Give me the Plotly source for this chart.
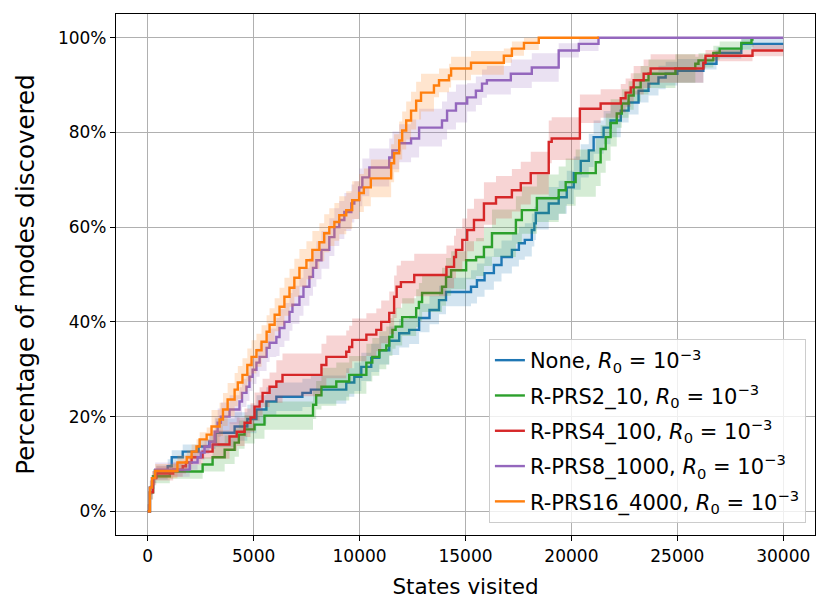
import numpy as np
import plotly.graph_objects as go

# ---------------- data ----------------
names = ["None", "R-PRS2_10", "R-PRS4_100", "R-PRS8_1000", "R-PRS16_4000"]
colors = ["#1f77b4", "#2ca02c", "#d62728", "#9467bd", "#ff7f0e"]

none_x = [0, 100, 250, 400, 940, 1130, 1650, 2400, 2900, 3200, 4100, 4700, 5130, 5600, 6070,
          7300, 7700, 9370, 9750, 10080, 10550, 10930, 11400, 11870, 12340, 12810, 13300, 13750,
          14080, 15260, 15540, 15900, 16340, 16700, 17190, 17520, 17800, 18130, 18250, 18320,
          18930, 19400, 19780, 20110, 20440, 20820, 21050, 21520, 21850, 22330, 22700, 23170,
          23640, 24110, 24450, 25000, 26230, 26850, 28020, 30000]
none_y = [0, 5, 7.4, 8.2, 9.5, 11.4, 12.6, 13.7, 14.7, 16.6, 17.9, 19.5, 21.5, 23.2, 24.2,
          25.0, 25.7, 27.2, 28.4, 30.5, 32.4, 34.0, 36.0, 37.6, 38.3, 40.8, 42.5, 44.6,
          46.3, 47.4, 48.8, 50.3, 52.0, 53.7, 55.2, 56.6, 57.3, 59.4, 60.8, 63.0,
          65.0, 66.3, 68.4, 71.4, 74.0, 76.2, 79.0, 81.0, 82.5, 84.6, 86.3, 88.8,
          90.3, 91.6, 92.4, 93.0, 94.5, 96.8, 98.7, 98.7]

prs2_x = [0, 100, 250, 1040, 2590, 3060, 3630, 4100, 4300, 4570, 5040, 5510, 7800, 7950, 8200,
          8900, 9510, 10320, 10600, 10930, 11260, 11400, 11550, 11700, 12010, 12670, 12800,
          12950, 13890, 14080, 14320, 15030, 15500, 15870, 16250, 17380, 17660, 18370, 19400,
          19730, 20200, 21150, 21380, 21620, 21850, 22140, 22380, 22700, 22940, 23270, 23640,
          24910, 25850, 26000, 26700, 27000, 28020, 28500, 28600]
prs2_y = [0, 4, 7.4, 8.4, 9.9, 11.4, 13.0, 14.5, 16.2, 17.3, 18.3, 20.2, 22.5, 24.5, 26.3,
          27.4, 28.8, 31.4, 32.6, 34.0, 35.0, 36.8, 38.3, 39.0, 41.0, 42.9, 44.2,
          46.1, 47.4, 49.5, 50.9, 53.0, 53.7, 55.8, 58.7, 61.5, 63.6, 66.1, 67.8,
          69.5, 71.4, 73.7, 76.5, 79.0, 82.0, 84.0, 86.1, 87.8, 89.5, 91.0, 92.4,
          93.5, 94.5, 95.2, 96.8, 97.7, 98.9, 99.6, 99.6]

prs4_x = [0, 100, 250, 400, 1200, 1650, 1800, 2070, 2590, 3060, 3860, 4200, 4570, 4850, 5040,
          5280, 5420, 5750, 6070, 6360, 8200, 8430, 9370, 9510, 9650, 10320, 10790, 11020,
          11400, 11630, 11750, 11950, 12580, 14100, 14460, 14550, 14850, 15080, 15400, 15870,
          16440, 17190, 17610, 18080, 18930, 19070, 20400, 21380, 22330, 22560, 22800, 22940,
          23410, 23740, 26230, 26330, 28550, 30000]
prs4_y = [0, 4, 7, 8, 8.8, 9.5, 10.3, 11.4, 12.6, 14.1, 15.8, 16.8, 18.7, 19.8, 22.1,
          23.2, 25.0, 26.3, 27.4, 28.8, 30.9, 32.6, 33.7, 34.7, 36.2, 37.3, 38.3, 40.0,
          41.9, 45.3, 47.4, 48.4, 49.9, 51.6, 53.7, 55.2, 57.3, 59.4, 61.5, 65.0,
          66.3, 67.8, 69.3, 71.4, 78.0, 78.7, 85.0, 86.1, 87.2, 88.4, 89.5, 91.0,
          92.4, 93.5, 94.7, 96.2, 97.3, 97.3]

prs8_x = [0, 100, 200, 350, 1980, 2350, 2500, 2680, 2920, 3160, 3300, 3450, 3860, 4330, 4450,
          4660, 4800, 4950, 5130, 5280, 5610, 5750, 6070, 6220, 6450, 6690, 6830, 7160, 7350,
          7630, 7800, 7960, 8200, 8570, 8810, 9040, 9280, 9610, 9750, 9980, 10130, 10460,
          11400, 11550, 11870, 12430, 12810, 13890, 14130, 14550, 15080, 15490, 15780, 16010,
          17140, 18130, 19400, 20350, 21280, 30000]
prs8_y = [0, 5, 7, 8.8, 10.3, 11.4, 12.4, 13.7, 14.7, 16.8, 18.7, 20.0, 21.5, 23.2, 25.0,
          26.3, 28.4, 29.9, 31.4, 32.6, 34.5, 35.6, 36.8, 38.7, 40.0, 42.1, 43.6, 45.3, 47.4,
          49.5, 51.4, 53.0, 55.2, 57.9, 60.0, 61.5, 63.2, 65.0, 65.7, 68.4, 70.5, 72.6,
          74.7, 76.2, 77.7, 78.7, 81.0, 82.5, 84.6, 86.1, 87.4, 88.8, 90.3, 91.0,
          92.4, 93.7, 97.3, 98.7, 100, 100]

prs16_x = [0, 100, 200, 350, 1400, 1840, 2070, 2300, 2450, 2780, 3010, 3390, 3550, 3770, 4100,
           4250, 4470, 4700, 4900, 5130, 5370, 5610, 5750, 5990, 6220, 6450, 6690, 6920, 7160,
           7490, 7770, 8100, 8330, 8570, 8810, 9040, 9370, 9650, 9980, 10200, 10530, 11490,
           11630, 11870, 12010, 12200, 12430, 12670, 12900, 13510, 13750, 14220, 14320, 15260,
           16810, 17190, 17760, 18460, 21300]
prs16_y = [0, 5, 7, 8.5, 10.3, 11.4, 12.6, 13.7, 15.2, 16.2, 17.9, 19.4, 21.5, 23.6, 25.7,
           27.2, 28.8, 30.9, 32.6, 34.0, 35.8, 37.9, 39.4, 41.5, 43.2, 45.3, 47.2, 49.3, 51.4,
           53.0, 55.2, 56.8, 58.7, 60.0, 61.1, 62.5, 63.6, 65.7, 67.2, 68.4, 70.3, 73.5,
           75.6, 78.3, 80.4, 82.5, 84.6, 86.7, 88.4, 89.9, 91.0, 92.0, 93.5, 94.7,
           96.2, 97.7, 98.9, 100, 100]

# spread of the shaded band (half-width, %) : value holds from the given x onward
none_sx, none_sv = [0, 3000, 15000, 22000, 26000], [1.5, 3.0, 3.5, 2.5, 1.2]
prs2_sx, prs2_sv = [0, 3000, 8000, 16000, 22000, 25000], [1.5, 3.0, 4.0, 5.0, 3.0, 1.5]
prs4_sx, prs4_sv = [0, 3000, 6000, 20000, 24000], [1.5, 3.0, 4.5, 3.0, 1.2]
prs8_sx, prs8_sv = [0, 3000, 6000, 15000, 19000, 21280], [1.5, 3.0, 4.0, 3.0, 1.5, 0.0]
prs16_sx, prs16_sv = [0, 3000, 6000, 13000, 16000, 18460], [1.5, 3.5, 4.0, 2.5, 1.5, 0.0]

series = [
    (none_x, none_y, none_sx, none_sv),
    (prs2_x, prs2_y, prs2_sx, prs2_sv),
    (prs4_x, prs4_y, prs4_sx, prs4_sv),
    (prs8_x, prs8_y, prs8_sx, prs8_sv),
    (prs16_x, prs16_y, prs16_sx, prs16_sv),
]

def rgba(hexc, a):
    h = hexc.lstrip("#")
    return "rgba(%d,%d,%d,%.2f)" % (int(h[0:2], 16), int(h[2:4], 16), int(h[4:6], 16), a)

fig = go.Figure()
for i, (name, col, (xs, ys, sx, sv)) in enumerate(zip(names, colors, series)):
    xs = np.array(xs, float)
    ys = np.array(ys, float)
    idx = np.searchsorted(np.array(sx), xs, side="right") - 1
    sd = np.array(sv)[idx]
    lo = np.clip(ys - sd, 0, 100)
    hi = np.clip(ys + sd, 0, 100)
    g = "g%d" % i
    fig.add_trace(go.Scatter(x=xs, y=lo, mode="lines", line=dict(width=0, shape="hv"),
                             showlegend=False, hoverinfo="skip", legendgroup=g))
    fig.add_trace(go.Scatter(x=xs, y=hi, mode="lines", line=dict(width=0, shape="hv"),
                             fill="tonexty", fillcolor=rgba(col, 0.2),
                             showlegend=False, hoverinfo="skip", legendgroup=g))
    fig.add_trace(go.Scatter(x=xs, y=ys, mode="lines", line=dict(color=col, width=2.4, shape="hv"),
                             legendgroup=g,
                             name=name + ", <i>R</i><sub>0</sub> = 10<sup>−3</sup>"))

font = "DejaVu Sans"
axis_common = dict(showgrid=True, gridcolor="#b0b0b0", gridwidth=1,
                   showline=True, linecolor="black", linewidth=1.2, mirror=True,
                   ticks="outside", ticklen=5, tickcolor="black", tickwidth=1,
                   zeroline=False, automargin=False,
                   tickfont=dict(family=font, size=17, color="black"))

# page body has an 8px margin, so the figure is sized to fit the 830x615 window
fig.update_layout(
    width=822, height=607,
    margin=dict(l=108, r=15, t=6, b=80),
    paper_bgcolor="white", plot_bgcolor="white",
    font=dict(family=font, color="black"),
    xaxis=dict(range=[-1500, 31500], tickvals=[0, 5000, 10000, 15000, 20000, 25000, 30000],
               ticktext=["0", "5000", "10000", "15000", "20000", "25000", "30000"],
               title=dict(text="States visited", font=dict(family=font, size=21.5), standoff=14),
               **axis_common),
    yaxis=dict(range=[-5, 105], tickvals=[0, 20, 40, 60, 80, 100],
               ticktext=["0%", "20%", "40%", "60%", "80%", "100%"],
               title=dict(text="Percentage of modes discovered", font=dict(family=font, size=24.5), standoff=16),
               **axis_common),
    legend=dict(x=0.987, y=0.023, xanchor="right", yanchor="bottom", traceorder="grouped",
                bgcolor="rgba(255,255,255,0.8)", bordercolor="#cccccc", borderwidth=1,
                font=dict(family=font, size=21, color="black"), tracegroupgap=5),
    showlegend=True,
)

fig.write_html("out.html")
